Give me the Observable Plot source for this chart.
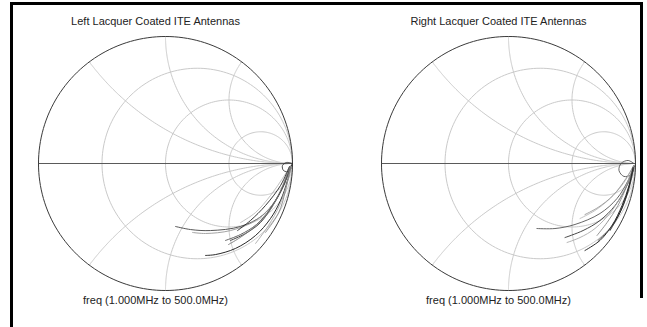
<!DOCTYPE html>
<html><head><meta charset="utf-8">
<script src="https://cdn.jsdelivr.net/npm/d3@7"></script>
<script src="https://cdn.jsdelivr.net/npm/@observablehq/plot@0.6"></script>
<style>
body{margin:0;background:#fff;}
#wrap{position:relative;width:647px;height:327px;overflow:hidden;background:#fff;}
#chart{position:absolute;left:0;top:0;}
.b{position:absolute;background:#000;}
</style></head><body>
<div id="wrap"><div id="chart"></div>
<div class="b" style="left:10px;top:2px;width:633px;height:3px"></div>
<div class="b" style="left:10px;top:2px;width:3px;height:325px"></div>
<div class="b" style="left:640px;top:2px;width:3px;height:296px"></div>
</div>
<script>
const facets = ["Left", "Right"];
const titles = ["Left Lacquer Coated ITE Antennas", "Right Lacquer Coated ITE Antennas"];
const freqLabels = ["freq (1.000MHz to 500.0MHz)", "freq (1.000MHz to 500.0MHz)"];
const resistanceGrid = [1/3, 1, 3];
const reactanceGrid = [0.5, 1, 2, -0.5, -1, -2];

// reflection coefficient traces [re, im], low to high frequency
const leftTraces = [
  [[1.0,0],[0.953,0.008],[0.921,-0.016],[0.929,-0.055],[0.969,-0.063],[0.992,-0.031],[1.0,0]],
  [[0.992,-0.008],[0.945,-0.134],[0.866,-0.291],[0.764,-0.409],[0.591,-0.496],[0.354,-0.528],[0.197,-0.520],[0.079,-0.496]],
  [[0.992,-0.016],[0.937,-0.157],[0.843,-0.323],[0.709,-0.449],[0.512,-0.528],[0.315,-0.551],[0.213,-0.543]],
  [[0.992,-0.016],[0.961,-0.134],[0.906,-0.291],[0.827,-0.433],[0.709,-0.567],[0.551,-0.669],[0.394,-0.717],[0.315,-0.724]],
  [[0.984,-0.024],[0.929,-0.173],[0.843,-0.331],[0.748,-0.465],[0.630,-0.551],[0.512,-0.606]],
  [[0.984,-0.024],[0.921,-0.197],[0.827,-0.354],[0.717,-0.480],[0.591,-0.559],[0.472,-0.606]],
  [[0.976,-0.031],[0.906,-0.213],[0.811,-0.386],[0.685,-0.512],[0.575,-0.591],[0.496,-0.638]],
  [[0.992,-0.024],[0.953,-0.173],[0.898,-0.331],[0.811,-0.488],[0.709,-0.630]],
  [[0.984,-0.024],[0.945,-0.213],[0.890,-0.390],[0.787,-0.543]],
  [[0.984,-0.016],[0.921,-0.118],[0.827,-0.252],[0.709,-0.386],[0.591,-0.465]],
  [[0.976,-0.024],[0.906,-0.173],[0.787,-0.331],[0.669,-0.449],[0.567,-0.528]]
];
const leftShades = ["#333","#444","#999","#111","#333","#555","#777","#aaa","#888","#bbb","#222"];

const rightTraces = [
  [[0.988,0],[0.941,0.024],[0.886,0],[0.870,-0.055],[0.909,-0.102],[0.965,-0.087],[0.988,-0.039]],
  [[0.988,-0.016],[0.941,-0.134],[0.854,-0.276],[0.720,-0.394],[0.524,-0.480],[0.366,-0.512],[0.224,-0.512]],
  [[0.988,-0.016],[0.933,-0.173],[0.839,-0.331],[0.720,-0.449],[0.587,-0.528],[0.445,-0.583]],
  [[0.980,-0.024],[0.917,-0.197],[0.815,-0.370],[0.681,-0.512],[0.563,-0.583],[0.461,-0.622]],
  [[0.988,-0.024],[0.949,-0.173],[0.894,-0.331],[0.815,-0.488],[0.720,-0.606],[0.602,-0.685]],
  [[0.988,-0.024],[0.933,-0.173],[0.862,-0.331],[0.776,-0.465],[0.697,-0.567]],
  [[0.988,-0.024],[0.949,-0.197],[0.886,-0.370],[0.799,-0.512],[0.705,-0.606]],
  [[0.980,-0.024],[0.909,-0.150],[0.799,-0.276],[0.681,-0.370],[0.563,-0.433]],
  [[0.988,-0.016],[0.925,-0.118],[0.823,-0.252],[0.705,-0.346],[0.602,-0.402]],
  [[0.980,-0.031],[0.941,-0.213],[0.878,-0.386],[0.799,-0.528]]
];
const rightShades = ["#555","#555","#333","#aaa","#111","#888","#444","#bbb","#999","#222"];

// Smith chart grid geometry
function resistanceCircle(r) {
  const c = r / (1 + r), rad = 1 / (1 + r);
  return d3.range(0, 361, 2).map(a => ({re: c + rad * Math.cos(a * Math.PI / 180), im: rad * Math.sin(a * Math.PI / 180)}));
}
function reactanceArc(x) {
  const rs = [0, ...d3.range(-2.5, 3.01, 0.02).map(e => 10 ** e)];
  const pts = rs.map(r => {
    const den = (r + 1) ** 2 + x * x;
    return {re: (r * r - 1 + x * x) / den, im: 2 * x / den};
  });
  pts.push({re: 1, im: 0});
  return pts;
}
const gridRows = [];
resistanceGrid.forEach((r, k) => resistanceCircle(r).forEach(p => gridRows.push({...p, id: "r" + k})));
reactanceGrid.forEach((x, k) => reactanceArc(x).forEach(p => gridRows.push({...p, id: "x" + k})));
const unitCircle = resistanceCircle(0);
const realAxis = [{re: -1, im: 0}, {re: 1, im: 0}];

const traceRows = [];
[[leftTraces, leftShades], [rightTraces, rightShades]].forEach(([traces, shades], f) => {
  traces.forEach((t, k) => t.forEach(([re, im]) => traceRows.push({fx: facets[f], id: facets[f] + k, re, im, shade: shades[k]})));
});

const chart = Plot.plot({
  width: 647,
  height: 327,
  marginLeft: 38,
  marginRight: 12,
  marginTop: 36,
  marginBottom: 37,
  style: {fontFamily: "'Liberation Sans', Arial, sans-serif", background: "transparent"},
  fx: {domain: facets, axis: null, paddingInner: 89 / 343, paddingOuter: 0, round: false, label: null},
  x: {domain: [-1, 1], axis: null},
  y: {domain: [-1, 1], axis: null},
  color: {type: "identity"},
  marks: [
    Plot.line(gridRows, {x: "re", y: "im", z: "id", stroke: "#cacaca", strokeWidth: 1}),
    Plot.line(realAxis, {x: "re", y: "im", stroke: "#5a5a5a", strokeWidth: 1}),
    Plot.line(unitCircle, {x: "re", y: "im", stroke: "#3a3a3a", strokeWidth: 1}),
    Plot.line(traceRows, {fx: "fx", x: "re", y: "im", z: "id", stroke: "shade", strokeWidth: 0.9, curve: "catmull-rom"}),
    Plot.text(facets, {fx: d => d, text: (d, i) => titles[i], frameAnchor: "top", lineAnchor: "middle", dy: -15, dx: -10, fontSize: 11, fill: "#222"}),
    Plot.text(facets, {fx: d => d, text: (d, i) => freqLabels[i], frameAnchor: "bottom", lineAnchor: "middle", dy: 10, dx: -10, fontSize: 11, fill: "#222"})
  ]
});
document.getElementById("chart").appendChild(chart);
</script>
</body></html>
